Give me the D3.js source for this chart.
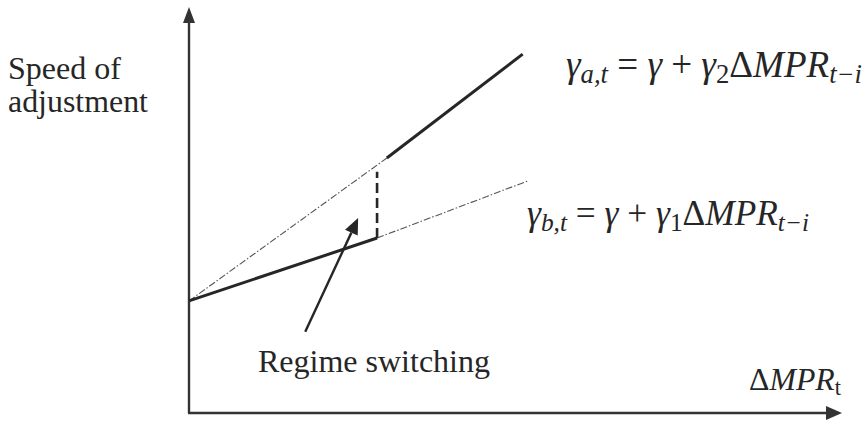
<!DOCTYPE html>
<html><head><meta charset="utf-8">
<script src="https://cdn.jsdelivr.net/npm/d3@7"></script>
<style>html,body{margin:0;padding:0;background:#fff}svg{display:block}</style>
</head><body><svg id="c" width="867" height="423"></svg>
<script>
// ---- data (conceptual diagram, in axis units) ----
const xDomain = [0, 10];
const yDomain = [0, 10];
const gammaIntercept = 2.76;
const lowerSolid = [[0, 2.76], [2.88, 4.31]];
const lowerDashDot = [[2.88, 4.31], [5.18, 5.71]];
const upperDashDot = [[0, 2.76], [3.03, 6.28]];
const upperSolid = [[3.03, 6.28], [5.11, 8.84]];
const regimeJump = [[2.88, 4.31], [2.88, 5.94]];
const annotationArrow = [[1.78, 2.0], [2.59, 4.80]];
const yAxisLabel = ["Speed of", "adjustment"];
const annotationLabel = "Regime switching";

const svg = d3.select("#c");
const x = d3.scaleLinear().domain(xDomain).range([189, 842]);
const y = d3.scaleLinear().domain(yDomain).range([413, 7]);
const ink = "#262626";

// axes
const ax = svg.append("g");
ax.append("line").attr("x1", x(0)).attr("y1", y(0)).attr("x2", x(0)).attr("y2", y(10) + 14)
  .attr("stroke", "#333").attr("stroke-width", 2.4);
ax.append("line").attr("x1", x(0) - 1).attr("y1", y(0)).attr("x2", x(10) - 14).attr("y2", y(0))
  .attr("stroke", "#333").attr("stroke-width", 2.4);
ax.append("path").attr("d", `M${x(0)},${y(10)} L${x(0)-6},${y(10)+16} L${x(0)+6},${y(10)+16}Z`).attr("fill", "#333");
ax.append("path").attr("d", `M${x(10)},${y(0)} L${x(10)-16},${y(0)-7} L${x(10)-16},${y(0)+7}Z`).attr("fill", "#333");

const line = d3.line().x(d => x(d[0])).y(d => y(d[1]));
function draw(data, w, dash, col) {
  svg.append("path").datum(data).attr("d", line).attr("fill", "none")
    .attr("stroke", col).attr("stroke-width", w).attr("stroke-dasharray", dash)
    .attr("stroke-linecap", "butt");
}
draw(upperDashDot, 1.1, "7,2,1.5,2", "#555");
draw(lowerDashDot, 1.1, "7,2,1.5,2", "#555");
draw(lowerSolid, 3, null, ink);
draw(upperSolid, 3, null, ink);
draw(regimeJump, 2.6, "10,5", ink);

// annotation arrow
const [a0, a1] = annotationArrow.map(p => [x(p[0]), y(p[1])]);
const ang = Math.atan2(a1[1] - a0[1], a1[0] - a0[0]);
const L = 16, H = 7;
const base = [a1[0] - L * Math.cos(ang), a1[1] - L * Math.sin(ang)];
svg.append("line").attr("x1", a0[0]).attr("y1", a0[1]).attr("x2", base[0]).attr("y2", base[1])
  .attr("stroke", ink).attr("stroke-width", 2.4);
svg.append("path").attr("d",
  `M${a1[0]},${a1[1]} L${base[0] + H * Math.sin(ang)},${base[1] - H * Math.cos(ang)} L${base[0] - H * Math.sin(ang)},${base[1] + H * Math.cos(ang)}Z`)
  .attr("fill", ink);

// fit text to target width
function fit(t, target) {
  const w = t.node().getComputedTextLength();
  const fs = parseFloat(t.attr("font-size"));
  t.attr("font-size", fs * target / w);
}
const serif = "'Liberation Serif','Times New Roman',serif";
const t1 = svg.append("text").attr("x", 8).attr("y", 79).attr("font-family", serif).attr("font-size", 30).attr("fill", ink).text(yAxisLabel[0]);
fit(t1, 113);
const t2 = svg.append("text").attr("x", 8).attr("y", 112).attr("font-family", serif).attr("font-size", 30).attr("fill", ink).text(yAxisLabel[1]);
fit(t2, 140);
const t3 = svg.append("text").attr("x", 258).attr("y", 372).attr("font-family", serif).attr("font-size", 30).attr("fill", ink).text(annotationLabel);
fit(t3, 232);

// equations
function eq(xp, yp, sub1, sub2, target) {
  const t = svg.append("text").attr("x", xp).attr("y", yp).attr("font-family", serif)
    .attr("font-size", 30).attr("fill", ink);
  t.append("tspan").attr("font-style", "italic").text("γ");
  t.append("tspan").attr("font-style", "italic").attr("font-size", "0.72em").attr("dy", 6).text(sub1);
  t.append("tspan").attr("dy", -6).text(" = ");
  t.append("tspan").attr("font-style", "italic").text("γ");
  t.append("tspan").text(" + ");
  t.append("tspan").attr("font-style", "italic").text("γ");
  t.append("tspan").attr("font-size", "0.72em").attr("dy", 6).text(sub2);
  t.append("tspan").attr("dy", -6).text("Δ");
  t.append("tspan").attr("font-style", "italic").text("MPR");
  t.append("tspan").attr("font-style", "italic").attr("font-size", "0.72em").attr("dy", 6).text("t−i");
  fit(t, target);
  return t;
}
eq(566, 77, "a,t", "2", 296);
eq(527, 225, "b,t", "1", 282);

// x-axis label
const xl = svg.append("text").attr("x", 749).attr("y", 390).attr("font-family", serif).attr("font-size", 26).attr("fill", ink);
xl.append("tspan").text("Δ");
xl.append("tspan").attr("font-style", "italic").text("MPR");
xl.append("tspan").attr("font-size", "0.7em").attr("dy", 5).text("t");
fit(xl, 92);
</script></body></html>
